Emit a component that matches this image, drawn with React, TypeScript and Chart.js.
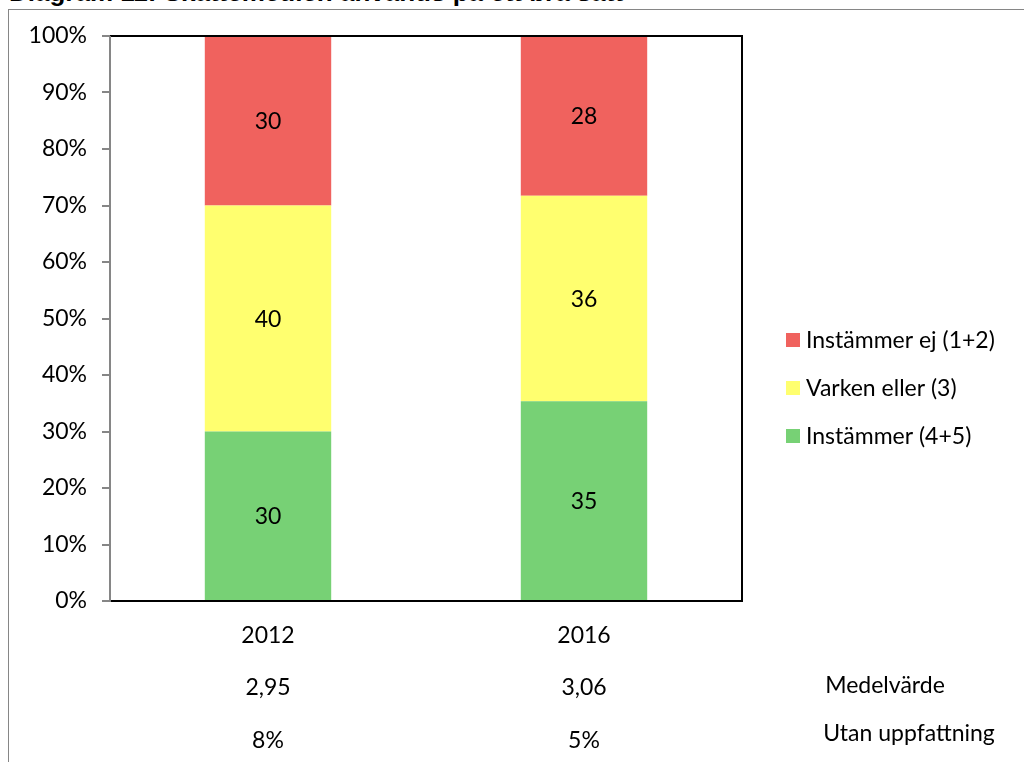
import React, { useEffect, useRef } from "react";
import { Chart, registerables } from "chart.js";

Chart.register(...registerables);

const title = "Diagram 11: Skattemedlen används på ett bra sätt";
const years = ["2012", "2016"];
const meanValues = ["2,95", "3,06"];
const noOpinion = ["8%", "5%"];
const rowTitles = ["Medelvärde", "Utan uppfattning"];
const seriesNames = ["Instämmer (4+5)", "Varken eller (3)", "Instämmer ej (1+2)"];
const agree = [30, 35];
const neutral = [40, 36];
const disagree = [30, 28];
const yTicks = [0, 10, 20, 30, 40, 50, 60, 70, 80, 90, 100];
const colors = ["#77D175", "#FFFF6F", "#F0625E"];

const FONT = "Lato";
const FS = 23;

export default function App() {
  const ref = useRef<HTMLCanvasElement | null>(null);

  useEffect(() => {
    if (!ref.current) return;
    const raw = [agree, neutral, disagree];
    const totals = years.map((_, i) => raw.reduce((s, a) => s + a[i], 0));
    const pct = raw.map((arr) => arr.map((v, i) => (v / totals[i]) * 100));

    const overlay = {
      id: "overlay",
      afterDatasetsDraw(chart: any) {
        const ctx = chart.ctx;
        const ca = chart.chartArea;
        ctx.save();
        // data labels
        ctx.font = `${FS}px ${FONT}`;
        ctx.fillStyle = "#000";
        ctx.textAlign = "center";
        ctx.textBaseline = "middle";
        chart.data.datasets.forEach((ds: any, di: number) => {
          const meta = chart.getDatasetMeta(di);
          meta.data.forEach((bar: any, i: number) => {
            const y = (bar.y + bar.base) / 2;
            ctx.fillText(String(ds.rawValues[i]), bar.x, y + 1);
          });
        });
        // plot border
        ctx.strokeStyle = "#000";
        ctx.lineWidth = 2;
        ctx.beginPath();
        ctx.moveTo(ca.left, ca.top);
        ctx.lineTo(ca.right, ca.top);
        ctx.lineTo(ca.right, ca.bottom);
        ctx.lineTo(ca.left, ca.bottom);
        ctx.stroke();
        // left axis grey
        ctx.strokeStyle = "#868686";
        ctx.beginPath();
        ctx.moveTo(ca.left, ca.top);
        ctx.lineTo(ca.left, ca.bottom + 1);
        ctx.stroke();
        // legend (reversed)
        const n = chart.data.datasets.length;
        ctx.textAlign = "left";
        for (let k = 0; k < n; k++) {
          const ds = chart.data.datasets[n - 1 - k];
          const cy = 340 + k * 48;
          ctx.fillStyle = ds.backgroundColor;
          ctx.fillRect(786, cy - 7, 14, 14);
          ctx.fillStyle = "#000";
          ctx.fillText(ds.label, 806, cy + 1);
        }
        // row titles
        ctx.textAlign = "center";
        ctx.fillText(rowTitles[0], 885, 686);
        ctx.fillText(rowTitles[1], 909, 734);
        ctx.restore();
      },
    };

    const chart = new Chart(ref.current, {
      type: "bar",
      data: {
        labels: years.map((y, i) => [y, meanValues[i], noOpinion[i]]),
        datasets: seriesNames.map((name, k) => ({
          label: name,
          data: pct[k],
          rawValues: raw[k],
          backgroundColor: colors[k],
          borderWidth: 0,
          barPercentage: 0.4,
          categoryPercentage: 1,
        })) as any,
      },
      options: {
        animation: false,
        responsive: false,
        maintainAspectRatio: false,
        layout: { padding: { left: 0, right: 282, top: 36, bottom: 0 } },
        plugins: { legend: { display: false }, tooltip: { enabled: false } },
        scales: {
          x: {
            stacked: true,
            grid: { display: false, drawTicks: false },
            border: { display: false },
            ticks: {
              color: "#000",
              padding: 8,
              font: { family: FONT, size: FS, lineHeight: "52.5px" as any },
              maxRotation: 0,
            },
            afterFit(scale: any) {
              scale.height = 161;
            },
          },
          y: {
            stacked: true,
            min: 0,
            max: 100,
            afterBuildTicks(scale: any) {
              scale.ticks = yTicks.map((v) => ({ value: v }));
            },
            afterFit(scale: any) {
              scale.width = 110;
            },
            grid: {
              drawOnChartArea: false,
              drawTicks: true,
              tickLength: 8,
              color: "#868686",
              lineWidth: 2,
            },
            border: { display: false },
            ticks: {
              color: "#000",
              padding: 15,
              font: { family: FONT, size: FS },
              callback: (v: any) => `${v}%`,
            },
          },
        },
      },
      plugins: [overlay],
    });
    return () => chart.destroy();
  }, []);

  return (
    <div style={{ position: "absolute", left: 0, top: 0, width: 1024, height: 762, overflow: "hidden", background: "#fff" }}>
      <div
        style={{
          position: "absolute",
          left: 9,
          top: -21,
          fontFamily: "Liberation Sans, Arial, sans-serif",
          fontWeight: "bold",
          fontSize: 26,
          lineHeight: 1,
          color: "#000",
          whiteSpace: "nowrap",
        }}
      >
        {title}
      </div>
      <div
        style={{
          position: "absolute",
          left: 8,
          top: 9,
          width: 1100,
          height: 800,
          border: "1px solid #868686",
          boxSizing: "border-box",
          background: "transparent",
        }}
      />
      <canvas ref={ref} width={1024} height={762} style={{ position: "absolute", left: 0, top: 0, width: 1024, height: 762 }} />
    </div>
  );
}
